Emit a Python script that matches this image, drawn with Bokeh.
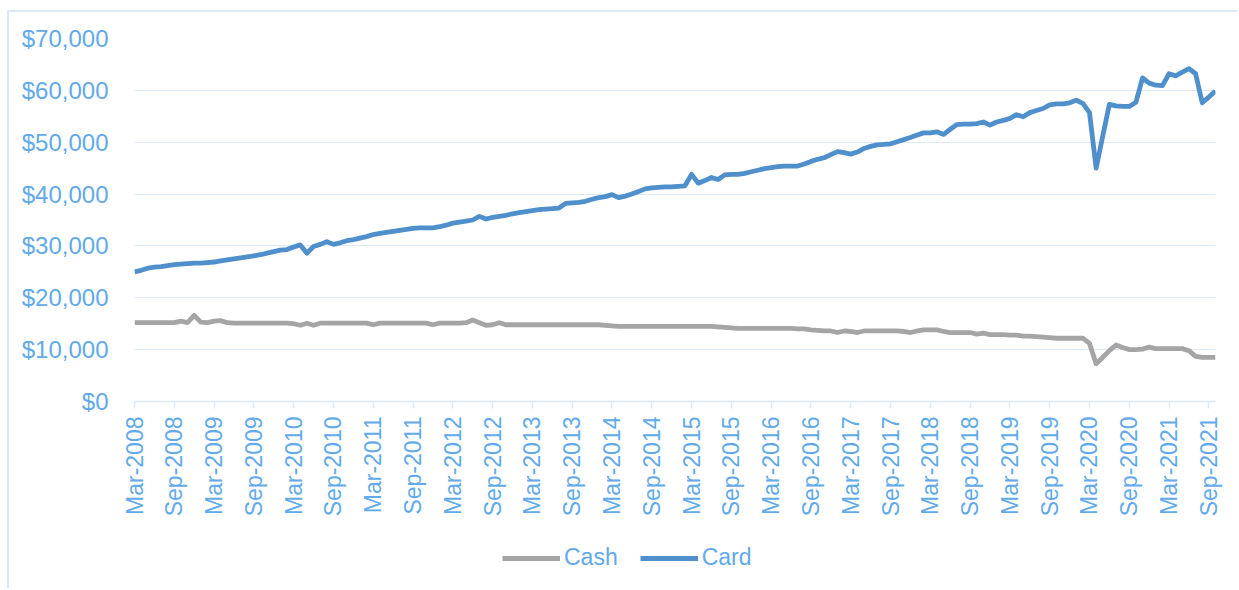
from bokeh.plotting import figure
from bokeh.layouts import column
from bokeh.models import (Range1d, FixedTicker, NumeralTickFormatter, Legend, LegendItem)
from bokeh.embed import file_html
from bokeh.resources import INLINE
import math

# Month index 0 = Mar-2008 ... 163 = Oct-2021
tick_labels = [
    "Mar-2008", "Sep-2008", "Mar-2009", "Sep-2009", "Mar-2010", "Sep-2010",
    "Mar-2011", "Sep-2011", "Mar-2012", "Sep-2012", "Mar-2013", "Sep-2013",
    "Mar-2014", "Sep-2014", "Mar-2015", "Sep-2015", "Mar-2016", "Sep-2016",
    "Mar-2017", "Sep-2017", "Mar-2018", "Sep-2018", "Mar-2019", "Sep-2019",
    "Mar-2020", "Sep-2020", "Mar-2021", "Sep-2021",
]

card = [
    25000, 25300, 25700, 25900, 26000, 26200, 26400, 26500, 26600, 26700, 26700, 26800,
    26900, 27100, 27300, 27500, 27700, 27900, 28100, 28300, 28600, 28900, 29200, 29300,
    29800, 30200, 28600, 29900, 30300, 30800, 30300, 30600, 31000, 31200, 31500, 31800,
    32200, 32400, 32600, 32800, 33000, 33200, 33400, 33500, 33500, 33500, 33700, 34000,
    34400, 34600, 34800, 35000, 35700, 35200, 35500, 35700, 35900, 36200, 36400, 36600,
    36800, 37000, 37100, 37200, 37300, 38200, 38300, 38400, 38600, 39000, 39300, 39500,
    39900, 39300, 39600, 40000, 40500, 41000, 41200, 41300, 41400, 41400, 41500, 41600,
    43800, 42100, 42600, 43200, 42800, 43700, 43800, 43800, 44000, 44300, 44600, 44900,
    45100, 45300, 45400, 45400, 45400, 45800, 46300, 46700, 47000, 47600, 48200, 48000,
    47700, 48100, 48800, 49200, 49500, 49600, 49700, 50100, 50500, 50900, 51400, 51800,
    51800, 52000, 51500, 52500, 53400, 53500, 53500, 53600, 53900, 53300, 53900, 54200,
    54600, 55300, 54900, 55700, 56100, 56500, 57200, 57400, 57400, 57600, 58100, 57500,
    55700, 45000, 51200, 57300, 57000, 56900, 56900, 57700, 62400, 61400, 61000, 60900,
    63200, 62800, 63500, 64200, 63200, 57600, 58700, 59900,
]

cash = [
    15200, 15200, 15200, 15200, 15200, 15200, 15200, 15500, 15200, 16600, 15300, 15200,
    15500, 15600, 15200, 15100, 15100, 15100, 15100, 15100, 15100, 15100, 15100, 15100,
    15000, 14700, 15100, 14700, 15100, 15100, 15100, 15100, 15100, 15100, 15100, 15100,
    14800, 15100, 15100, 15100, 15100, 15100, 15100, 15100, 15100, 14800, 15100, 15100,
    15100, 15100, 15200, 15700, 15200, 14700, 14800, 15200, 14800, 14800, 14800, 14800,
    14800, 14800, 14800, 14800, 14800, 14800, 14800, 14800, 14800, 14800, 14800, 14700,
    14600, 14500, 14500, 14500, 14500, 14500, 14500, 14500, 14500, 14500, 14500, 14500,
    14500, 14500, 14500, 14500, 14400, 14300, 14200, 14100, 14100, 14100, 14100, 14100,
    14100, 14100, 14100, 14100, 14000, 14000, 13800, 13700, 13600, 13600, 13300, 13600,
    13500, 13300, 13600, 13600, 13600, 13600, 13600, 13600, 13500, 13300, 13600, 13800,
    13800, 13800, 13500, 13300, 13300, 13300, 13300, 13000, 13200, 12900, 12900, 12900,
    12800, 12800, 12600, 12600, 12500, 12400, 12300, 12200, 12200, 12200, 12200, 12200,
    11200, 7300, 8500, 9800, 10900, 10400, 10000, 10000, 10100, 10500, 10200, 10200,
    10200, 10200, 10200, 9800, 8700, 8500, 8500, 8500,
]

series_names = ["Cash", "Card"]
series_colors = ["#a5a5a5", "#4f8fcc"]

months = list(range(len(card)))

LABEL = "#62aaea"
GRID = "#dceaf8"
BORDER = "2px solid #dde9f7"
FONT = "Liberation Sans"

p = figure(frame_width=1079, frame_height=361, output_backend="svg", toolbar_location=None,
           x_range=Range1d(0, len(card) - 1), y_range=Range1d(0, 70000),
           min_border_left=125, min_border_right=24, min_border_top=26,
           min_border_bottom=130)
p.styles = {"border-left": BORDER, "border-top": BORDER,
            "margin-left": "7px", "margin-top": "10px"}
p.outline_line_color = None
p.background_fill_color = "white"

p.line(months, cash, line_color=series_colors[0], line_width=4.8, line_join="round")
p.line(months, card, line_color=series_colors[1], line_width=4.8, line_join="round")

p.xgrid.grid_line_color = None
p.ygrid.grid_line_color = GRID
p.ygrid.grid_line_width = 1.2
p.yaxis.ticker = FixedTicker(ticks=list(range(0, 70001, 10000)))
p.yaxis.formatter = NumeralTickFormatter(format="$0,0")
p.yaxis.axis_line_color = None
p.yaxis.major_tick_line_color = None
p.yaxis.minor_tick_line_color = None
p.yaxis.major_label_standoff = 20
p.yaxis.major_label_text_color = LABEL
p.yaxis.major_label_text_font = FONT
p.yaxis.major_label_text_font_size = "24px"

tick_pos = [6 * i for i in range(len(tick_labels))]
p.xaxis.ticker = FixedTicker(ticks=tick_pos)
p.xaxis.major_label_overrides = {t: lab for t, lab in zip(tick_pos, tick_labels)}
p.xaxis.major_label_orientation = math.pi / 2
p.xaxis.axis_line_color = GRID
p.xaxis.axis_line_width = 1.5
p.xaxis.major_tick_line_color = GRID
p.xaxis.major_tick_line_width = 1.5
p.xaxis.major_tick_in = 0
p.xaxis.major_tick_out = 7
p.xaxis.minor_tick_line_color = None
p.xaxis.major_label_standoff = 8
p.xaxis.major_label_text_color = LABEL
p.xaxis.major_label_text_font = FONT
p.xaxis.major_label_text_font_size = "23px"

# Legend strip below the chart (its series lie outside its own range, so only
# the legend itself is visible)
lg = figure(width=1228, height=59, output_backend="svg", toolbar_location=None,
            x_range=Range1d(0, 1), y_range=Range1d(0, 1),
            min_border_left=0, min_border_right=0, min_border_top=0, min_border_bottom=0)
lg.styles = {"border-left": BORDER, "margin-left": "7px"}
lg.axis.visible = False
lg.grid.grid_line_color = None
lg.outline_line_color = None
items = []
for name, col, vals in zip(series_names, series_colors, [cash, card]):
    r = lg.line(months, vals, line_color=col, line_width=4.8)
    items.append(LegendItem(label=name, renderers=[r]))
legend = Legend(items=items, orientation="horizontal", location=(368, 17))
legend.label_text_color = LABEL
legend.label_text_font = FONT
legend.label_text_font_size = "23px"
legend.glyph_width = 58
legend.label_standoff = 4
legend.spacing = 22
legend.padding = 0
legend.margin = 0
legend.border_line_color = None
legend.background_fill_alpha = 0
lg.add_layout(legend, "center")

layout = column(p, lg, spacing=0)
open("out.html", "w").write(file_html(layout, INLINE))
